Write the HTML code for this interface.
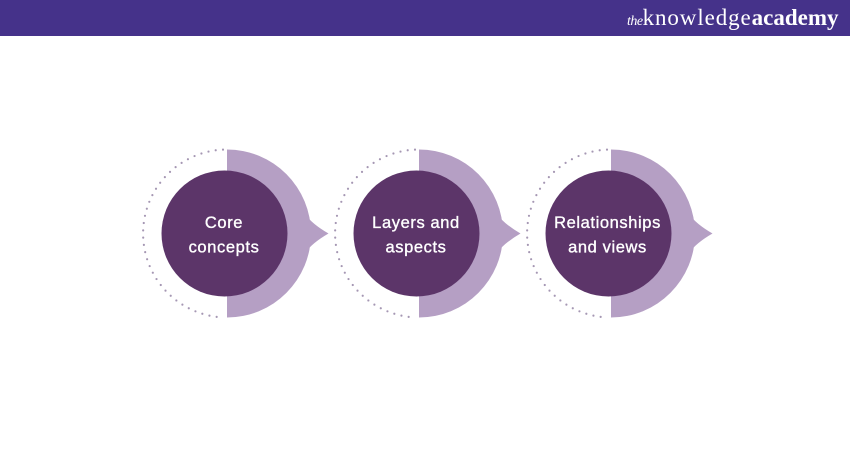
<!DOCTYPE html>
<html>
<head>
<meta charset="utf-8">
<style>
  html,body{margin:0;padding:0;background:#ffffff;}
  body{width:850px;height:450px;position:relative;overflow:hidden;font-family:"Liberation Sans",sans-serif;}
  .hdr{position:absolute;left:0;top:0;width:850px;height:36px;background:#45328a;}
  .logo{position:absolute;left:627px;top:3px;height:30px;white-space:nowrap;color:#fff;font-family:"Liberation Serif",serif;line-height:30px;}
  .logo .the{font-style:italic;font-size:14px;letter-spacing:-0.5px;}
  .logo .kn{font-size:23px;letter-spacing:0.9px;}
  .logo .ac{font-size:23px;font-weight:bold;letter-spacing:0px;}
  svg{position:absolute;left:0;top:0;}
</style>
</head>
<body>
<div class="hdr"></div>
<div class="logo"><span class="the">the</span><span class="kn">knowledge</span><span class="ac">academy</span></div>

<svg width="850" height="450" viewBox="0 0 850 450" xmlns="http://www.w3.org/2000/svg">
  <defs>
    <g id="unit">
      <path d="M223,149.6 A84,84 0 0 0 223,317.4" fill="none" stroke="#a597b3" stroke-width="2.2" stroke-linecap="round" stroke-dasharray="0 7.33"/>
      <path d="M227,149.5 A84,84 0 0 1 227,317.5 Z" fill="#b59fc4"/>
      <path d="M305,214 Q312,224 328.5,233.5 Q312,243 305,253 Z" fill="#b59fc4"/>
      <circle cx="224.5" cy="233.5" r="63" fill="#5c3569"/>
    </g>
  </defs>
  <use href="#unit" x="0" y="0"/>
  <use href="#unit" x="192" y="0"/>
  <use href="#unit" x="384" y="0"/>

  <g fill="#ffffff" stroke="#ffffff" stroke-width="0.35" font-family="Liberation Sans, sans-serif" font-size="16.5" text-anchor="middle" letter-spacing="0.6">
    <text x="224" y="228">Core</text>
    <text x="224" y="252.5">concepts</text>
    <text x="416" y="228">Layers and</text>
    <text x="416" y="252.5">aspects</text>
    <text x="607.5" y="228">Relationships</text>
    <text x="607.5" y="252.5">and views</text>
  </g>
</svg>
</body>
</html>
